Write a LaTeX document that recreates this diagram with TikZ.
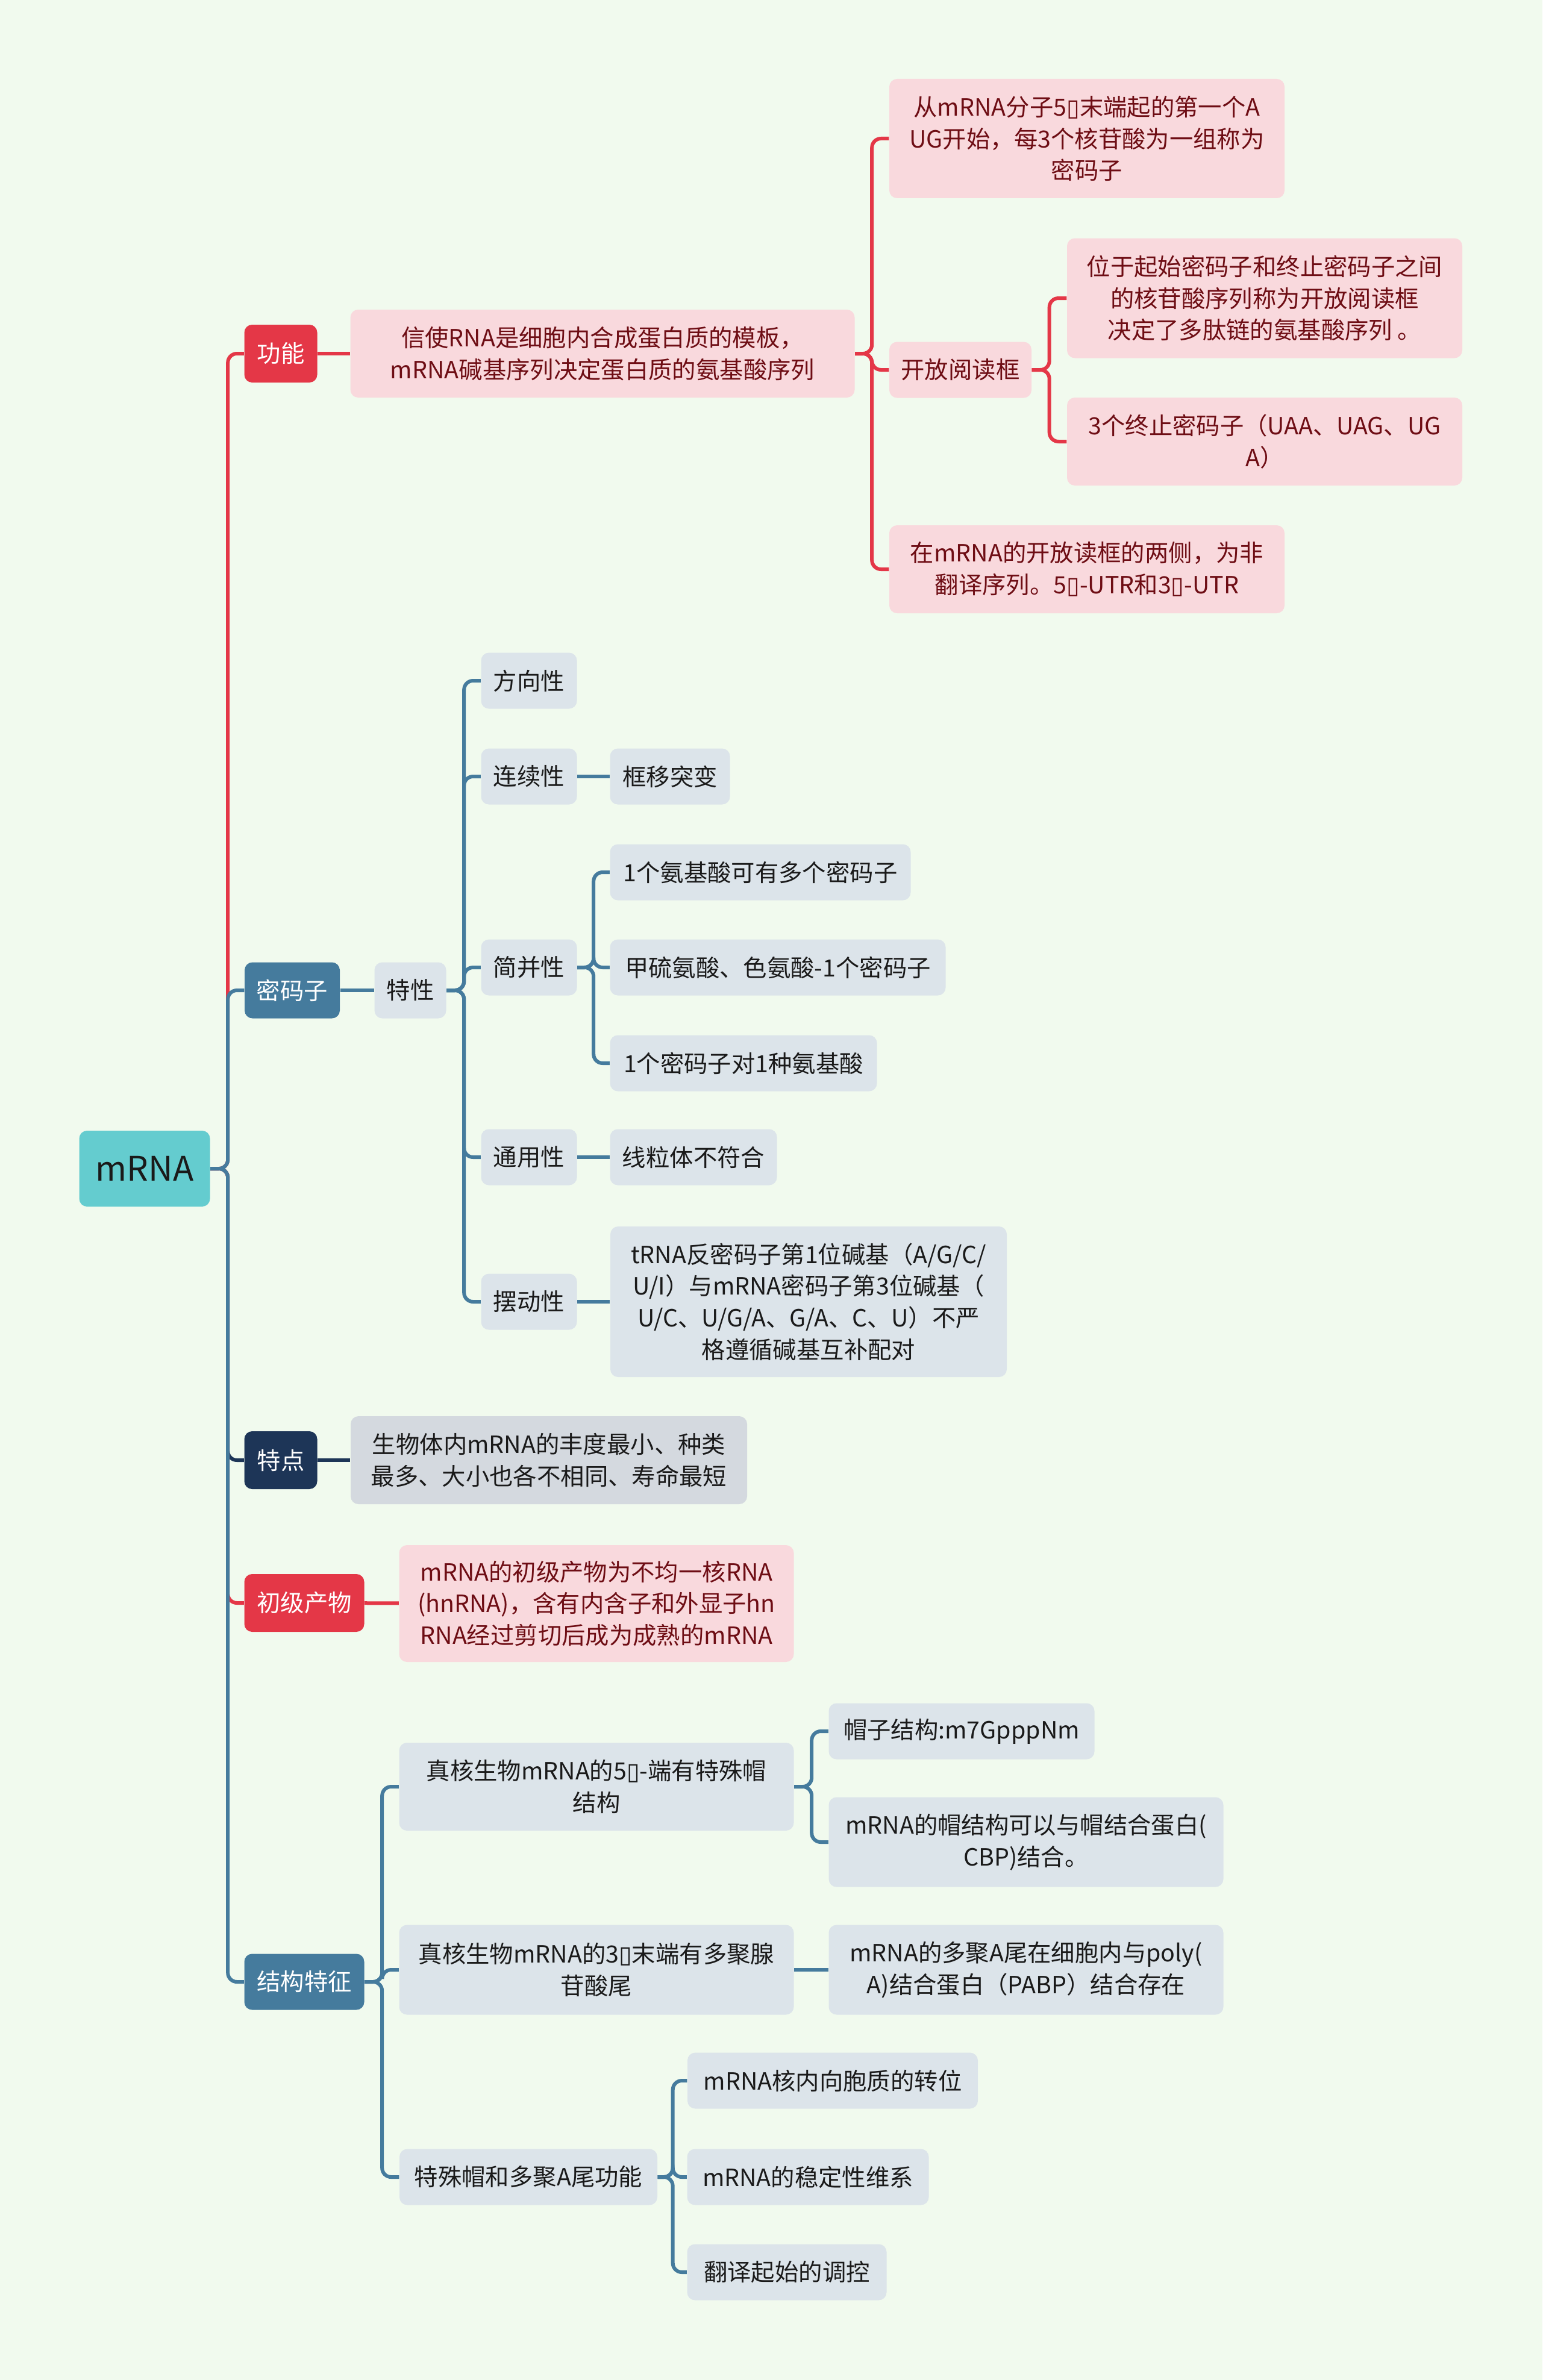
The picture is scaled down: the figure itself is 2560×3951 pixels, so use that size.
\documentclass[tikz,border=0pt]{standalone}
\usepackage{fontspec}
\setmainfont{Noto Sans CJK SC}
\newfontfamily\tofufont{DejaVu Sans}
\newcommand{\tofu}{{\tofufont ▯}}
\definecolor{bgcol}{HTML}{F1FAEE}
\definecolor{rootc}{HTML}{64CCCF}
\definecolor{redc}{HTML}{E43747}
\definecolor{bluec}{HTML}{457B9D}
\definecolor{navyc}{HTML}{1D3557}
\definecolor{pinkc}{HTML}{F9D9DD}
\definecolor{maroonc}{HTML}{6E0D14}
\definecolor{greyc}{HTML}{DCE4EA}
\definecolor{darkgreyc}{HTML}{D4D9DF}
\definecolor{inkc}{HTML}{1A1A1A}
\begin{document}
\begin{tikzpicture}[x=0.1mm, y=-0.1mm,
    box/.style={rounded corners=1.3mm, inner sep=0pt, align=center,
      minimum height=9.3mm, font=\fontsize{11.2}{15}\selectfont},
    rootnode/.style={box, fill=rootc, text=inkc, font=\fontsize{16}{18}\selectfont},
    redtag/.style={box, fill=redc, text=white},
    bluetag/.style={box, fill=bluec, text=white},
    navytag/.style={box, fill=navyc, text=white},
    pinkbox/.style={box, fill=pinkc, text=maroonc},
    greybox/.style={box, fill=greyc, text=inkc},
    link/.style={line width=0.6mm, rounded corners=1.5mm},
    redlink/.style={link, draw=redc},
    bluelink/.style={link, draw=bluec},
    navylink/.style={link, draw=navyc}
  ]
    \fill[bgcol] (0,0) rectangle (2560,3951);
    \useasboundingbox (0,0) rectangle (2560,3951);
    % raíz y primer nivel
    \node[rootnode, minimum width=21.7mm, minimum height=12.6mm] (r) at (240,1940) {mRNA};
    \node[redtag,  minimum width=12.1mm, minimum height=9.6mm] (f) at (466,587)  {功能};
    \node[bluetag, minimum width=15.8mm] (m) at (485,1644) {密码子};
    \node[navytag, minimum width=12.1mm, minimum height=9.6mm] (t) at (466,2424) {特点};
    \node[redtag,  minimum width=19.9mm, minimum height=9.6mm] (c) at (505,2661) {初级产物};
    \node[bluetag, minimum width=19.9mm] (s) at (505,3290) {结构特征};
    % rama: función
    \begin{scope}
      \node[pinkbox, minimum width=83.7mm, minimum height=14.6mm] (fa) at (1000,587)
        {信使RNA是细胞内合成蛋白质的模板，\\mRNA碱基序列决定蛋白质的氨基酸序列};
      \node[pinkbox, minimum width=65.6mm, minimum height=19.8mm] (f1) at (1804,230)
        {从mRNA分子5\tofu 末端起的第一个A\\UG开始，每3个核苷酸为一组称为\\密码子};
      \node[pinkbox, minimum width=23.6mm] (f2) at (1594,614) {开放阅读框};
      \node[pinkbox, minimum width=65.6mm, minimum height=14.6mm] (f3) at (1804,945)
        {在mRNA的开放读框的两侧，为非\\翻译序列。5\tofu-UTR和3\tofu-UTR};
      \node[pinkbox, minimum width=65.6mm, minimum height=19.9mm] (f2a) at (2099,495)
        {位于起始密码子和终止密码子之间\\的核苷酸序列称为开放阅读框\\决定了多肽链的氨基酸序列 。};
      \node[pinkbox, minimum width=65.6mm, minimum height=14.6mm] (f2b) at (2099,733)
        {3个终止密码子（UAA、UAG、UG\\A）};
      \draw[redlink] (f) -- (fa);
      \foreach \k in {f1,f2,f3} {
        \draw[redlink] (fa.east) -- ++(28,0) |- (\k.west);
      }
      \foreach \k in {f2a,f2b} {
        \draw[redlink] (f2.east) -- ++(29,0) |- (\k.west);
      }
    \end{scope}
    % rama: codón
    \begin{scope}
      \node[greybox, minimum width=11.9mm] (mt) at (681,1644) {特性};
      \node[greybox, minimum width=15.9mm] (m1) at (878,1130) {方向性};
      \node[greybox, minimum width=15.9mm] (m2) at (878,1289) {连续性};
      \node[greybox, minimum width=15.9mm] (m3) at (878,1606) {简并性};
      \node[greybox, minimum width=15.9mm] (m4) at (878,1921) {通用性};
      \node[greybox, minimum width=15.9mm] (m5) at (878,2161) {摆动性};
      \node[greybox, minimum width=19.9mm] (m2a) at (1112,1289) {框移突变};
      \node[greybox, minimum width=49.9mm] (m3a) at (1262,1448) {1个氨基酸可有多个密码子};
      \node[greybox, minimum width=55.7mm] (m3b) at (1291,1606) {甲硫氨酸、色氨酸-1个密码子};
      \node[greybox, minimum width=44.3mm] (m3c) at (1234,1765) {1个密码子对1种氨基酸};
      \node[greybox, minimum width=27.7mm] (m4a) at (1151,1921) {线粒体不符合};
      \node[greybox, minimum width=65.8mm, minimum height=25mm] (m5a) at (1342,2161)
        {tRNA反密码子第1位碱基（A/G/C/\\U/I）与mRNA密码子第3位碱基（\\U/C、U/G/A、G/A、C、U）不严\\格遵循碱基互补配对};
      \draw[bluelink] (m) -- (mt);
      \foreach \k in {m1,m2,m3,m4,m5} {
        \draw[bluelink] (mt.east) -- ++(29,0) |- (\k.west);
      }
      \foreach \k in {m3a,m3b,m3c} {
        \draw[bluelink] (m3.east) -- ++(27,0) |- (\k.west);
      }
      \draw[bluelink] (m2) -- (m2a);
      \draw[bluelink] (m4) -- (m4a);
      \draw[bluelink] (m5) -- (m5a);
    \end{scope}
    % ramas: rasgos y producto primario
    \node[box, fill=darkgreyc, text=inkc, minimum width=65.8mm, minimum height=14.6mm] (ta) at (911,2424)
      {生物体内mRNA的丰度最小、种类\\最多、大小也各不相同、寿命最短};
    \node[pinkbox, minimum width=65.5mm, minimum height=19.4mm] (ca) at (990,2662)
      {mRNA的初级产物为不均一核RNA\\(hnRNA)，含有内含子和外显子hn\\RNA经过剪切后成为成熟的mRNA};
    \draw[navylink] (t) -- (ta);
    \draw[redlink] (c) -- (ca);
    % rama: estructura
    \begin{scope}
      \node[greybox, minimum width=65.5mm, minimum height=14.6mm] (s1) at (990,2966)
        {真核生物mRNA的5\tofu-端有特殊帽\\结构};
      \node[greybox, minimum width=65.5mm, minimum height=14.9mm] (s2) at (990,3270)
        {真核生物mRNA的3\tofu 末端有多聚腺\\苷酸尾};
      \node[greybox, minimum width=42.8mm] (s3) at (877,3614) {特殊帽和多聚A尾功能};
      \node[greybox, minimum width=44.1mm] (s1a) at (1596,2874) {帽子结构:m7GpppNm};
      \node[greybox, minimum width=65.5mm, minimum height=14.9mm] (s1b) at (1703,3058)
        {mRNA的帽结构可以与帽结合蛋白(\\CBP)结合。};
      \node[greybox, minimum width=65.5mm, minimum height=14.9mm] (s2a) at (1703,3270)
        {mRNA的多聚A尾在细胞内与poly(\\A)结合蛋白（PABP）结合存在};
      \node[greybox, minimum width=48.2mm] (s3a) at (1382,3454) {mRNA核内向胞质的转位};
      \node[greybox, minimum width=40.1mm] (s3b) at (1341,3614) {mRNA的稳定性维系};
      \node[greybox, minimum width=33.1mm] (s3c) at (1306,3772) {翻译起始的调控};
      \foreach \k in {s1,s2,s3} {
        \draw[bluelink] (s.east) -- ++(29,0) |- (\k.west);
      }
      \foreach \k in {s1a,s1b} {
        \draw[bluelink] (s1.east) -- ++(29,0) |- (\k.west);
      }
      \draw[bluelink] (s2) -- (s2a);
      \foreach \k in {s3a,s3b,s3c} {
        \draw[bluelink] (s3.east) -- ++(25,0) |- (\k.west);
      }
    \end{scope}
    % conexiones desde la raíz
    \foreach \k/\st in {f/redlink,t/navylink,c/redlink,m/bluelink,s/bluelink} {
      \draw[\st] (r.east) -- ++(29,0) |- (\k.west);
    }
  \end{tikzpicture}
\end{document}
